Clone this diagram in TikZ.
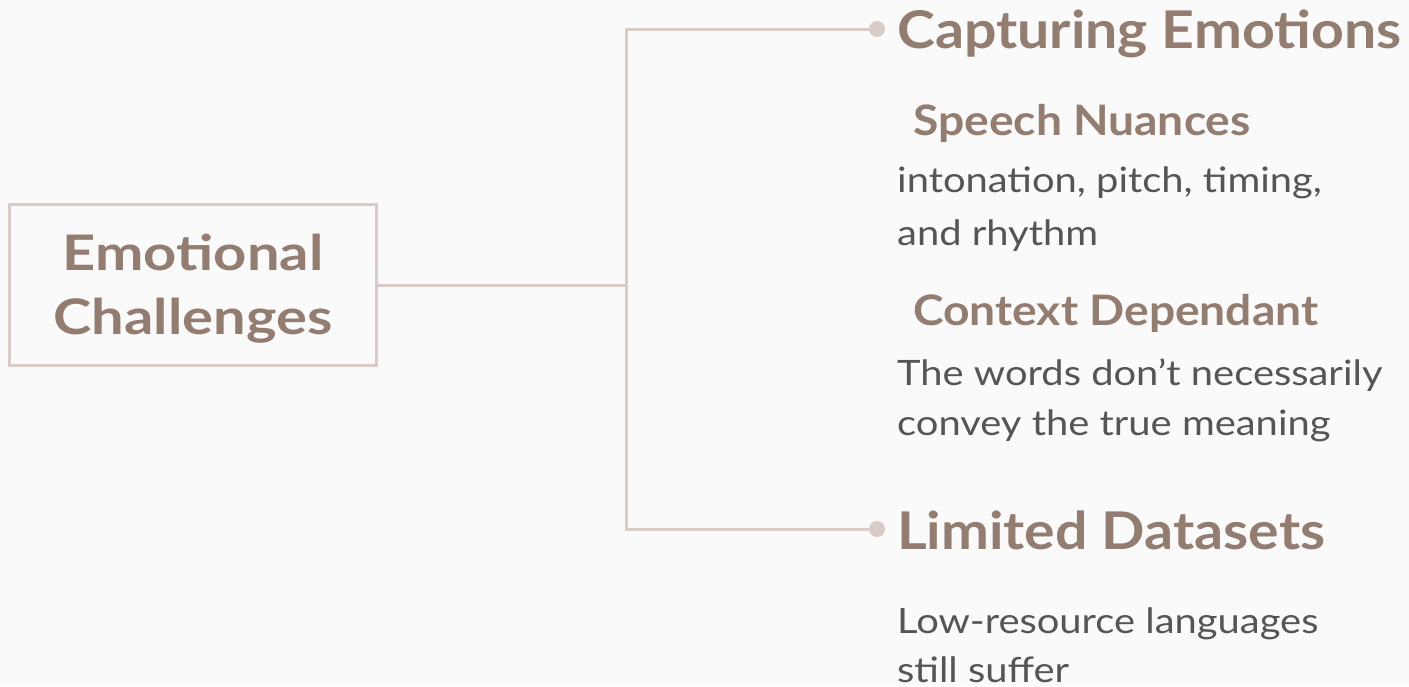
\documentclass[tikz,border=0pt]{standalone}
\usepackage{fontspec}
\setmainfont{Lato}[FakeStretch=1.14]
\newfontfamily\headfont{Lato}[UprightFont=* Bold,FakeStretch=1.10]
\newfontfamily\boxfont{Lato}[UprightFont=* Bold,FakeStretch=1.18]
\definecolor{bgc}{HTML}{FAFAFA}
\definecolor{linec}{HTML}{D7CCC8}
\definecolor{headc}{HTML}{937C70}
\definecolor{bodyc}{HTML}{555555}
\begin{document}
\begin{tikzpicture}[x=1pt,y=-1pt,
  conn/.style={draw=linec,line width=3pt},
  rootbox/.style={draw=linec,line width=3pt,minimum width=366pt,minimum height=160pt,inner sep=0pt,align=center,text=headc,font=\boxfont\fontsize{49}{64}\selectfont},
  dotn/.style={circle,fill=linec,minimum size=16pt,inner sep=0pt},
  mainhead/.style={anchor=base west,inner sep=0pt,text=headc,font=\headfont\fontsize{52}{60}\selectfont},
  subhead/.style={anchor=base west,inner sep=0pt,text=headc,font=\headfont\fontsize{42}{50}\selectfont},
  bodyt/.style={anchor=base west,inner sep=0pt,text=bodyc,font=\fontsize{35}{50}\selectfont}]
\fill[bgc] (0,0) rectangle (1409,686);
\useasboundingbox (0,0) rectangle (1409,686);
\node[draw=none,minimum width=366pt,minimum height=160pt] (root) at (193,285) {};
\draw[draw=linec,line width=3pt] (root.south west) rectangle (root.north east);
\node[rootbox,draw=none,minimum width=0pt,minimum height=0pt] (roottext) at (193,289) {Emotional\\Challenges};
\coordinate (j) at (626,285);
\node[dotn] (d1) at (877,29) {};
\node[dotn] (d2) at (877,529) {};
\draw[conn] (root.east) -- (j);
\draw[conn] (j) |- (d1.center);
\draw[conn] (j) |- (d2.center);
\node[mainhead] (h1) at (897,48) {Capturing Emotions};
\node[subhead] (s1) at (913,135) {Speech Nuances};
\node[bodyt] (b1a) at (897,192) {intonation, pitch, timing,};
\node[bodyt] (b1b) at (897,245) {and rhythm};
\node[subhead] (s2) at (913,325) {Context Dependant};
\node[bodyt] (b2a) at (897,385) {The words don’t necessarily};
\node[bodyt] (b2b) at (897,435) {convey the true meaning};
\node[mainhead] (h2) at (897,549) {Limited Datasets};
\node[bodyt] (b3a) at (897,633) {Low-resource languages};
\node[bodyt] (b3b) at (897,682) {still suffer};
\end{tikzpicture}
\end{document}
